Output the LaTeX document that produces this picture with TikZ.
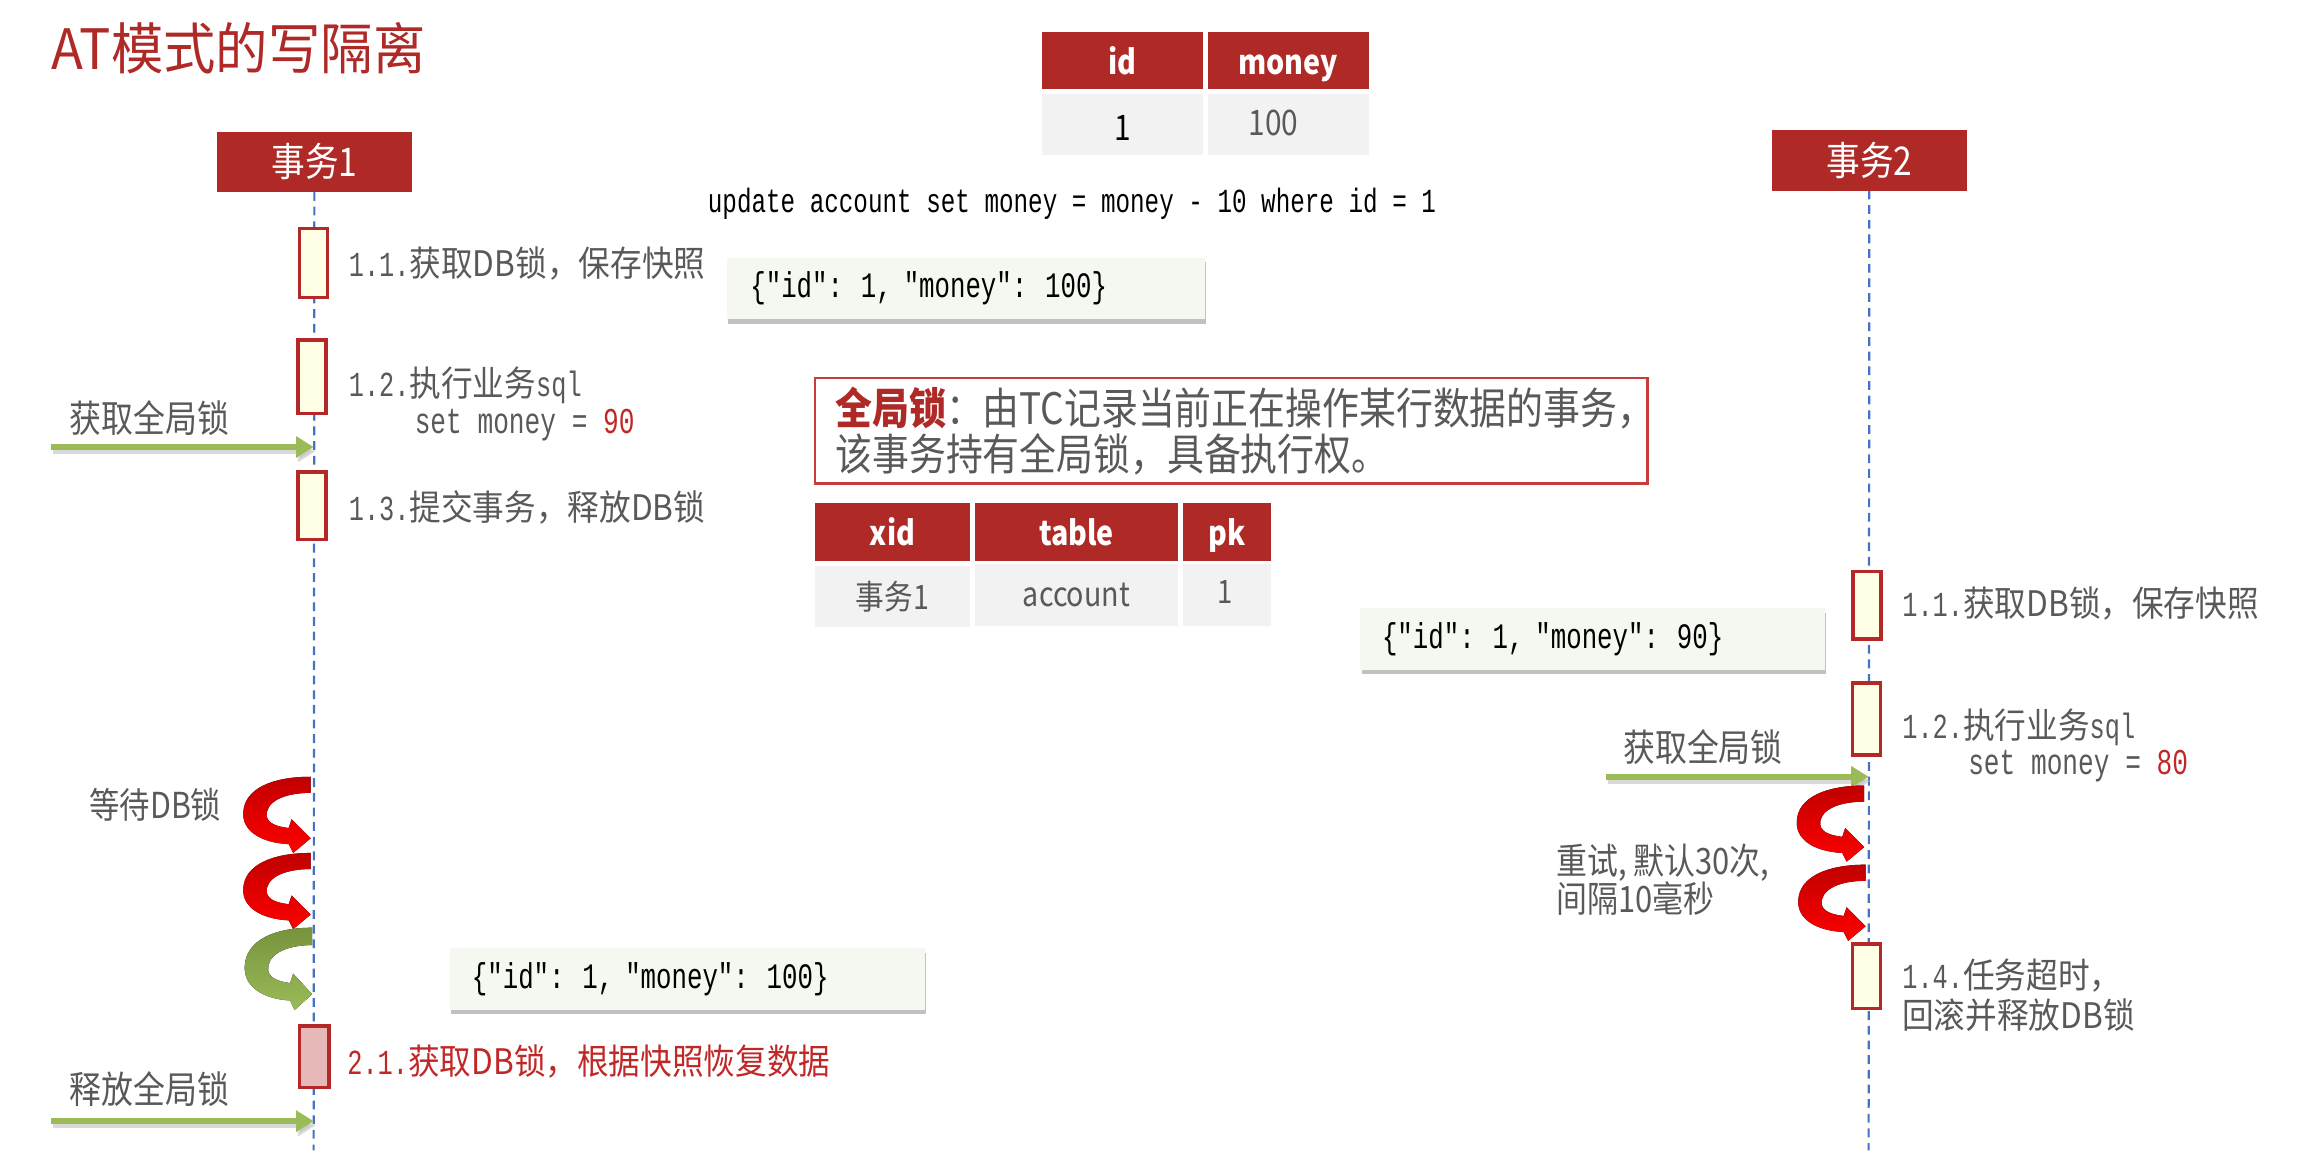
\documentclass[tikz,border=0pt]{standalone}
\usepackage{fontspec}
\setmainfont{Noto Sans CJK SC}[FakeStretch=0.85]
\newfontfamily\titlefont{Noto Sans CJK SC}[FakeStretch=0.94]
\newfontfamily\lblfont{Noto Sans CJK SC}[FakeStretch=0.9]
\newfontfamily\codefont{Liberation Mono}[FakeStretch=0.72]
\usetikzlibrary{arrows.meta,shadows,backgrounds}
\definecolor{hdr}{RGB}{175,41,38}
\definecolor{txtgray}{RGB}{89,89,89}
\definecolor{redtxt}{RGB}{192,40,40}
\definecolor{lifeblue}{RGB}{68,114,196}
\definecolor{arrgreen}{RGB}{155,187,89}
\definecolor{boxfill}{RGB}{255,255,230}
\definecolor{boxline}{RGB}{180,40,40}
\definecolor{pinkfill}{RGB}{230,184,183}
\definecolor{cellgray}{RGB}{242,242,242}
\definecolor{jsonfill}{RGB}{244,248,240}
\definecolor{lockline}{RGB}{200,60,60}
\definecolor{curldark}{RGB}{192,0,0}
\definecolor{curllight}{RGB}{255,0,0}
\definecolor{greendark}{RGB}{119,147,60}
\definecolor{greenlight}{RGB}{155,187,89}
\newcommand\curlshape{(0,0) -- (0,11) .. controls (-20,11) and (-31,18) .. (-30,27) .. controls (-29,32) and (-23,34) .. (-15,35) -- (-13,29) -- (0,42) -- (-12,52) -- (-15,46) .. controls (-34,45) and (-47,37) .. (-46,24) .. controls (-45,8) and (-26,0) .. (0,0) -- cycle}
\newcommand\pre[1]{{\codefont #1}}
\begin{document}
\begin{tikzpicture}[x=0.5pt,y=-0.5pt,
  every node/.style={inner sep=0pt, outer sep=0pt},
  title/.style={font=\titlefont\fontsize{19}{22}\selectfont, text=hdr, anchor=west},
  txhead/.style={fill=hdr, text=white, minimum width=66.5pt, minimum height=20.5pt, font=\fontsize{13.5}{15}\selectfont},
  hcell/.style={fill=hdr, text=white, minimum height=19.5pt, text height=11pt, text depth=2pt, font=\fontsize{11.5}{13}\selectfont\bfseries},
  bcell/.style={fill=cellgray, minimum height=21pt, font=\fontsize{11.5}{13}\selectfont},
  act/.style={draw=boxline, line width=1.2pt, fill=boxfill, minimum width=9.5pt},
  lbl/.style={font=\lblfont\fontsize{12}{13.5}\selectfont, text=txtgray, anchor=west},
  biglbl/.style={font=\fontsize{12.8}{14}\selectfont, text=txtgray},
  code/.style={font=\codefont\fontsize{12.4}{14}\selectfont, anchor=west},
  json/.style={fill=jsonfill, minimum height=21pt, align=left, anchor=west, font=\codefont\fontsize{12.2}{14}\selectfont, text=black, drop shadow={shadow xshift=0.5pt, shadow yshift=-1.5pt, opacity=0.35, fill=black!70}},
  lifeline/.style={draw=lifeblue, line width=0.75pt, dash pattern=on 3pt off 2pt},
  garrow/.style={draw=arrgreen, line width=2pt, -{Triangle[length=6pt,width=7pt]}},
  gshadow/.style={draw=black!25, line width=2pt, -{Triangle[length=6pt,width=7pt]}, opacity=0.6, transform canvas={shift={(0.6pt,-1.5pt)}}}
]
\useasboundingbox (0,0) rectangle (1568,785);

% title
\node[title] (title) at (35,33) {AT模式的写隔离};

% top table
\node[hcell, minimum width=55pt] (hid) at (766,41.5) {id};
\node[hcell, minimum width=55pt] (hmoney) at (879,41.5) {money};
\node[bcell, minimum width=55pt] (bid) at (766,85) {};
\node[bcell, minimum width=55pt] (bmoney) at (879,85) {};
\node[font=\fontsize{12}{14}\selectfont, text=black] (bidt) at (766,87) {1};
\node[font=\fontsize{12}{14}\selectfont, text=txtgray] (bmoneyt) at (869,84) {100};

% sql line
\node[code, font=\codefont\fontsize{11.5}{13}\selectfont, text=black] (sql) at (483,139) {update account set money = money - 10 where id = 1};

% transactions
\node[txhead] (t1) at (214.5,110.5) {事务1};
\node[txhead] (t2) at (1275.5,109.5) {事务2};
\coordinate (t1end) at (214,785);
\coordinate (t2end) at (1275,785);

% activation boxes T1
\node[act, minimum height=23.5pt] (a11) at (214,179.5) {};
\node[act, minimum height=25pt] (a12) at (213,257) {};
\node[act, minimum height=23pt] (a13) at (213,345) {};
\node[act, fill=pinkfill, minimum height=21pt, minimum width=10pt] (a21) at (214.5,721) {};

% activation boxes T2
\node[act, minimum height=23pt] (b11) at (1274,413) {};
\node[act, minimum height=24.5pt] (b12) at (1273.5,490.5) {};
\node[act, minimum height=22pt] (b14) at (1273.5,666) {};

\begin{scope}[on background layer]
\draw[lifeline] (t1.south) -- (t1end);
\draw[lifeline] (t2.south) -- (t2end);
\end{scope}

% T1 labels
\node[lbl] (l11) at (238,180) {\pre{1.1.}获取DB锁，保存快照};
\node[lbl] (l12) at (238,263) {\pre{1.2.}执行业务\pre{sql}};
\node[code, text=txtgray] (l12b) at (283,290) {set money = \textcolor{redtxt}{90}};
\node[lbl] (l13) at (238,346) {\pre{1.3.}提交事务，释放DB锁};
\node[lbl, text=redtxt] (l21) at (237,724) {\pre{2.1.}获取DB锁，根据快照恢复数据};

% T2 labels
\node[lbl] (m11) at (1298,412) {\pre{1.1.}获取DB锁，保存快照};
\node[lbl] (m12) at (1298,496) {\pre{1.2.}执行业务\pre{sql}};
\node[code, text=txtgray] (m12b) at (1343,523) {set money = \textcolor{redtxt}{80}};
\node[lbl, align=left] (m14) at (1298,679) {\pre{1.4.}任务超时，\\[0pt]回滚并释放DB锁};
\node[lbl, align=left, font=\fontsize{12.4}{13}\selectfont] (retry) at (1062,600) {重试, 默认30次,\\[0pt]间隔10毫秒};

% JSON boxes
\node[json, text width=147pt, inner xsep=8pt] (j1) at (496,197) {\{"id": 1, "money": 100\}};
\node[json, text width=143.5pt, inner xsep=7.5pt] (j2) at (928,436) {\{"id": 1, "money": 90\}};
\node[json, text width=147pt, inner xsep=7.5pt] (j3) at (307,668) {\{"id": 1, "money": 100\}};

% global lock
\node[draw=lockline, line width=0.9pt, minimum width=284pt, minimum height=36pt] (lock) at (840,294) {};
\node[anchor=west, align=left, font=\fontsize{14.8}{15.5}\selectfont, text=txtgray] (locktxt) at (570,294) {\textcolor{hdr}{\bfseries 全局锁}：由TC记录当前正在操作某行数据的事务，\\该事务持有全局锁，具备执行权。};

% lock table
\node[hcell, minimum width=53pt] (hxid) at (609,363) {xid};
\node[hcell, minimum width=69.5pt] (htable) at (734.5,363) {table};
\node[hcell, minimum width=30pt] (hpk) at (837,363) {pk};
\node[bcell, minimum width=53pt, text=txtgray] (bxid) at (609,407) {事务1};
\node[bcell, minimum width=69.5pt, text=txtgray] (btable) at (734.5,406) {account};
\node[bcell, minimum width=30pt, text=txtgray] (bpk) at (837,406) {};
\node[font=\fontsize{11}{13}\selectfont, text=txtgray] (bpkt) at (836,404) {1};

% global lock arrows
\node[biglbl] (get1) at (102,285) {获取全局锁};
\coordinate (g1s) at (35,305);
\coordinate (g1e) at (214,305);
\draw[gshadow] (g1s) -- (g1e);
\draw[garrow] (g1s) -- (g1e);

\node[biglbl] (rel1) at (102,743) {释放全局锁};
\coordinate (g2s) at (35,765);
\coordinate (g2e) at (214,765);
\draw[gshadow] (g2s) -- (g2e);
\draw[garrow] (g2s) -- (g2e);

\node[biglbl] (get2) at (1162,510) {获取全局锁};
\coordinate (g3s) at (1096,530);
\coordinate (g3e) at (1275,530);
\draw[gshadow] (g3s) -- (g3e);
\draw[garrow] (g3s) -- (g3e);

\node[biglbl, font=\fontsize{12.2}{14}\selectfont] (wait) at (106,549) {等待DB锁};

% curl arrows
\begin{scope}[shift={(212,530)}]
\fill[top color=curldark, bottom color=curllight] \curlshape;
\end{scope}
\begin{scope}[shift={(212,582)}]
\fill[top color=curldark, bottom color=curllight] \curlshape;
\end{scope}
\begin{scope}[shift={(213,633)}, yscale=1.08]
\fill[top color=greendark, bottom color=greenlight] \curlshape;
\end{scope}
\begin{scope}[shift={(1272,536)}]
\fill[top color=curldark, bottom color=curllight] \curlshape;
\end{scope}
\begin{scope}[shift={(1273,590)}]
\fill[top color=curldark, bottom color=curllight] \curlshape;
\end{scope}
\end{tikzpicture}
\end{document}
